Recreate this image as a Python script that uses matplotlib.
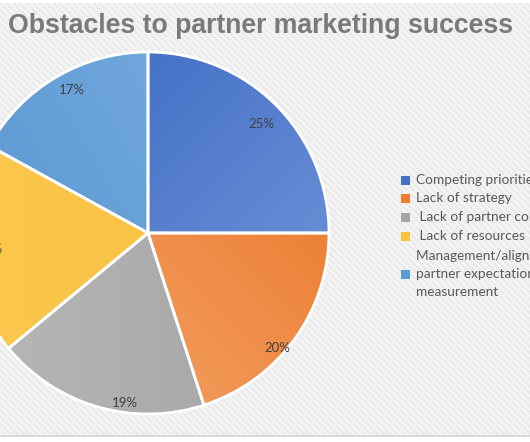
import numpy as np
import matplotlib
matplotlib.use("Agg")
import matplotlib.pyplot as plt
from matplotlib.patches import Rectangle
from matplotlib.colors import to_rgb

# ---- data ----
categories = [
    "Competing priorities",
    "Lack of strategy",
    " Lack of partner commitment",
    " Lack of resources",
    "Management/alignment of\npartner expectations and\nmeasurement",
]
shares = [25, 20, 19, 19, 17]
title = "Obstacles to partner marketing success"

# ---- style ----
base_colors = ["#4472c4", "#ed7d31", "#a5a5a5", "#f9c13c", "#5b9bd5"]
# (dark end, light end, gradient direction in degrees) for each slice
shading = [
    ("#3e6cc4", "#6e92d8", -45),
    ("#ec7a2e", "#f4a468", -135),
    ("#a2a2a2", "#b8b8b8", 180),
    ("#f7be3a", "#fbc84e", 180),
    ("#5896d2", "#78addf", 30),
]
label_pos = [(0.87, -1.3), (0.955, -5.5), (0.95, 8.5), (0.88, 0.4), (0.895, -2.6)]

W, H = 530, 442
fig = plt.figure(figsize=(W / 100, H / 100), dpi=100, facecolor="white")
ax = fig.add_axes([0, 0, 1, 1])
ax.set_xlim(0, W)
ax.set_ylim(0, H)
ax.axis("off")

# hatched panel background
plt.rcParams["hatch.linewidth"] = 1.2
bg = Rectangle((0, H - 436), W, 433, facecolor="#ebebeb", edgecolor="#f8f8f8",
               linewidth=0, hatch="\\\\\\\\\\", zorder=0)
ax.add_patch(bg)
ax.plot([0, W], [H - 436, H - 436], color="#d4d4d4", lw=1.2, zorder=1)

cx, cy, R = 148, H - 233, 181
wedges, _ = ax.pie(shares, colors=base_colors, startangle=90, counterclock=False,
                   center=(cx, cy), radius=R, frame=True,
                   wedgeprops=dict(edgecolor="white", linewidth=2))
ax.set_xlim(0, W)
ax.set_ylim(0, H)
ax.set_aspect("equal")
ax.axis("off")

# gradient fill inside each slice
n = 300
gx, gy = np.meshgrid(np.linspace(-1, 1, n), np.linspace(-1, 1, n))
for w, (c_dark, c_light, ang) in zip(wedges, shading):
    d = np.deg2rad(ang)
    t = np.clip((gx * np.cos(d) + gy * np.sin(d) + 1) / 2, 0, 1)[..., None]
    img = np.array(to_rgb(c_dark)) * (1 - t) + np.array(to_rgb(c_light)) * t
    im = ax.imshow(img, extent=[cx - R, cx + R, cy - R, cy + R], origin="lower",
                   zorder=2, interpolation="bilinear")
    im.set_clip_path(w)
    w.set_facecolor("none")
    w.set_zorder(3)

# percentage labels
for w, v, (rf, off) in zip(wedges, shares, label_pos):
    mid = np.deg2rad((w.theta1 + w.theta2) / 2 + off)
    ax.text(cx + rf * R * np.cos(mid), cy + rf * R * np.sin(mid), f"{v}%",
            ha="center", va="center", fontsize=9.5, color="#404040",
            family="Lato", zorder=4)

# title
ax.text(8, H - 33, title, ha="left", va="baseline", fontsize=19.2,
        fontweight="bold", color="#7a7a7a", family="Liberation Sans", zorder=4)

# legend
legend_y = [180, 198, 217, 236, 274]
for cat, col, yy in zip(categories, base_colors, legend_y):
    ax.add_patch(Rectangle((401, H - yy - 4.5), 9, 9, facecolor=col,
                           edgecolor="none", zorder=4))
    ax.text(416, H - yy, cat, ha="left", va="center", fontsize=9.8,
            color="#595959", family="Lato", linespacing=1.55, zorder=4)

fig.savefig("out.png", dpi=100, facecolor="white")
